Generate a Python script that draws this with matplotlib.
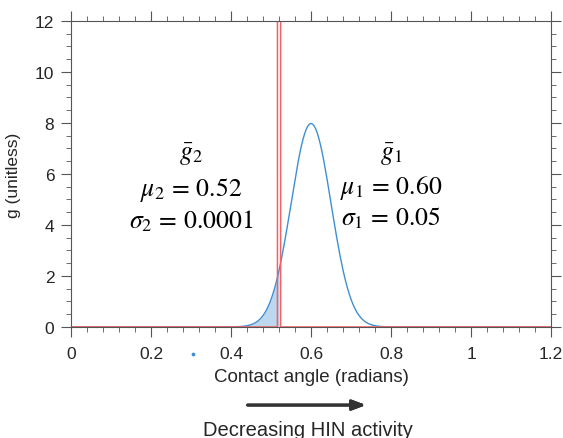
import numpy as np
import matplotlib.pyplot as plt
from matplotlib.ticker import MultipleLocator

# distribution parameters shown on the chart
mu1, sigma1 = 0.60, 0.05
mu2, sigma2 = 0.52, 0.0001
x_step = 0.004            # sampling of the angle axis
x_range = [0.0, 1.2]
xtick_labels = ['0', '0.2', '0.4', '0.6', '0.8', '1', '1.2']
stray_x, stray_y = [0.305], [-1.08]   # little blue dot under the axis

blue = '#3f8fd2'
red = '#f06468'
axcol = '#555555'
txtcol = '#262626'

x = np.arange(x_range[0], x_range[1] + x_step / 2, x_step)
g1 = np.exp(-0.5 * ((x - mu1) / sigma1) ** 2) / (sigma1 * np.sqrt(2 * np.pi))
g2 = np.exp(-0.5 * ((x - mu2) / sigma2) ** 2) / (sigma2 * np.sqrt(2 * np.pi))

plt.rcParams['font.family'] = ['Liberation Sans', 'DejaVu Sans']
plt.rcParams['mathtext.fontset'] = 'stix'

fig = plt.figure(figsize=(5.63, 4.39), dpi=100)
ax = fig.add_axes([0.126, 0.253, 0.853, 0.697])

# shaded part of g1 left of mu2
m = x <= mu2 + 1e-9
ax.fill_between(x[m], 0, g1[m], color='#bcd7ee', lw=0)
ax.plot(x, g1, color=blue, lw=1)
ax.plot(x, g2, color=red, lw=1.1)
ax.scatter(stray_x, stray_y, s=3, color=blue, clip_on=False, zorder=5)

ax.set_xlim(x_range)
ax.set_ylim(0, 12)
ax.set_xticks(np.arange(0, 1.21, 0.2))
ax.set_xticklabels(xtick_labels)
ax.xaxis.set_minor_locator(MultipleLocator(0.04))
ax.yaxis.set_major_locator(MultipleLocator(2))
ax.yaxis.set_minor_locator(MultipleLocator(0.5))

ax.tick_params(which='both', direction='out', top=True, right=True,
               colors=axcol, labelcolor=txtcol, labelsize=12.5)
ax.tick_params(which='major', length=7)
ax.tick_params(which='minor', length=3.5)
ax.tick_params(axis='x', pad=7)
ax.tick_params(axis='y', pad=5)
for s in ax.spines.values():
    s.set_color(axcol)

ax.set_xlabel('Contact angle (radians)', fontsize=13.5, color=txtcol, labelpad=5)
ax.set_ylabel('g (unitless)', fontsize=12.5, color=txtcol, labelpad=10)

tk = dict(ha='center', va='center', fontsize=18.5, color='black')
ax.text(0.30, 6.8, r'$\bar{g}_2$', **tk)
ax.text(0.30, 5.4, r'$\mu_2\,=\,0.52$', **tk)
ax.text(0.30, 4.2, r'$\sigma_2\,=\,0.0001$', **tk)
ax.text(0.80, 6.8, r'$\bar{g}_1$', **tk)
ax.text(0.80, 5.5, r'$\mu_1\,=\,0.60$', **tk)
ax.text(0.80, 4.3, r'$\sigma_1\,=\,0.05$', **tk)

# arrow below the axis
fig.add_artist(plt.annotate('', xy=(0.655, 0.075), xytext=(0.435, 0.075),
                            xycoords='figure fraction',
                            arrowprops=dict(arrowstyle='-|>,head_length=0.8,head_width=0.3',
                                            color='#333333', lw=2.2)))
fig.text(0.547, 0.02, 'Decreasing HIN activity', ha='center', va='center',
         fontsize=14.5, color=txtcol)

fig.savefig('out.png', dpi=100)
